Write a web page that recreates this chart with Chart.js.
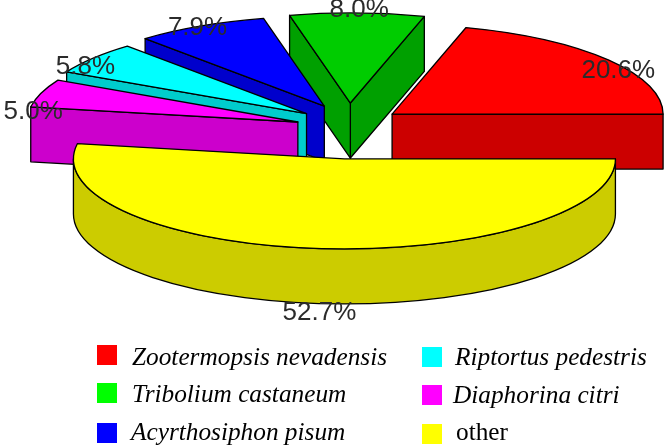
<!DOCTYPE html>
<html>
<head>
<meta charset="utf-8">
<style>
  html, body { margin: 0; padding: 0; background: #fff; }
  canvas { display: block; }
</style>
<script src="https://cdn.jsdelivr.net/npm/chart.js@4"></script>
</head>
<body>
<canvas id="pie-chart" width="666" height="446"></canvas>
<script>
// values, in the order the slices go round the pie (anti-clockwise from 3 o'clock)
const categories = ["Zootermopsis nevadensis", "Tribolium castaneum", "Acyrthosiphon pisum",
                    "Riptortus pedestris", "Diaphorina citri", "other"];
const percents = [20.6, 8.0, 7.9, 5.8, 5.0, 52.7];

const topColors = ["#ff0000", "#00cc00", "#0000ff", "#00ffff", "#ff00ff", "#ffff00"];
const wallColors = ["#cc0000", "#00a000", "#0000cc", "#00cccc", "#cc00cc", "#cccc00"];
const legendColors = ["#ff0000", "#00ff00", "#0000ff", "#00ffff", "#ff00ff", "#ffff00"];

// how the flat pie is tilted and pulled apart
const view = { rx: 271, ry: 90, depth: 55, explodeX: 54, explodeY: 28 };
// nudge of each % label away from the point on the rim
const labelNudge = [[10, 11], [2, -3], [-3, 2], [-8, 9], [-8, 19], [-2, 9]];
// legend boxes: [x, y of box, text x, text baseline]
const legendRows = [
    [97, 345, 132, 365], [97, 383, 132, 402], [97, 423, 131, 440],
    [422, 347, 455, 365], [422, 385, 453, 403], [422, 424, 456, 440]
];

function outline(ctx, color) {
    ctx.fillStyle = color;
    ctx.fill();
    ctx.stroke();
}

function drawWall(ctx, ax, ay, angle, color) {
    const ex = ax + Math.cos(angle) * view.rx;
    const ey = ay - Math.sin(angle) * view.ry;
    ctx.beginPath();
    ctx.moveTo(ax, ay);
    ctx.lineTo(ex, ey);
    ctx.lineTo(ex, ey + view.depth);
    ctx.lineTo(ax, ay + view.depth);
    ctx.closePath();
    outline(ctx, color);
}

// the library's arcs give the angles, this plugin tilts them into the 3D look
const pie3d = {
    id: 'pie3d',
    beforeDatasetsDraw(chart) {
        const ctx = chart.ctx;
        const arcs = chart.getDatasetMeta(0).data;
        ctx.save();
        ctx.lineWidth = 1.3;
        ctx.strokeStyle = "#000";
        ctx.lineJoin = "round";

        arcs.forEach((arc, i) => {
            const a0 = arc.startAngle, a1 = arc.endAngle;
            const mid = (a0 + a1) / 2;
            const ax = arc.x + Math.cos(mid) * view.explodeX;
            const ay = arc.y - Math.sin(mid) * view.explodeY;

            if (Math.cos(a0) > 0.001) drawWall(ctx, ax, ay, a0, wallColors[i]);
            if (Math.cos(a1) < -0.001) drawWall(ctx, ax, ay, a1, wallColors[i]);

            // curved outside wall, only the part facing us
            if (a1 > Math.PI) {
                const from = Math.max(a0, Math.PI);
                ctx.beginPath();
                ctx.ellipse(ax, ay, view.rx, view.ry, 0, -from, -a1, true);
                ctx.ellipse(ax, ay + view.depth, view.rx, view.ry, 0, -a1, -from, false);
                ctx.closePath();
                outline(ctx, wallColors[i]);
            }

            ctx.beginPath();
            ctx.moveTo(ax, ay);
            ctx.ellipse(ax, ay, view.rx, view.ry, 0, -a0, -a1, true);
            ctx.closePath();
            outline(ctx, topColors[i]);
        });

        // % labels
        ctx.fillStyle = "#2b2b2b";
        ctx.font = "26px 'Liberation Sans'";
        ctx.textAlign = "center";
        ctx.textBaseline = "middle";
        arcs.forEach((arc, i) => {
            const mid = (arc.startAngle + arc.endAngle) / 2;
            const ax = arc.x + Math.cos(mid) * view.explodeX;
            const ay = arc.y - Math.sin(mid) * view.explodeY;
            let y = ay - Math.sin(mid) * view.ry;
            if (Math.sin(mid) < 0) y += view.depth;
            ctx.fillText(percents[i].toFixed(1) + "%",
                ax + Math.cos(mid) * view.rx + labelNudge[i][0], y + labelNudge[i][1]);
        });

        // legend, mixed italic so drawn by hand
        ctx.textAlign = "left";
        ctx.textBaseline = "alphabetic";
        categories.forEach((name, i) => {
            const row = legendRows[i];
            ctx.fillStyle = legendColors[i];
            ctx.fillRect(row[0], row[1], 20, 20);
            ctx.fillStyle = "#000";
            ctx.font = (name === "other" ? "" : "italic ") + "25.3px 'Liberation Serif'";
            ctx.fillText(name, row[2], row[3]);
        });
        ctx.restore();
        return false;
    }
};

new Chart(document.getElementById("pie-chart"), {
    type: 'pie',
    data: {
        labels: categories,
        datasets: [
            {
                backgroundColor: topColors,
                data: percents
            }
        ]
    },
    options: {
        responsive: false,
        animation: false,
        rotation: 90,
        layout: { padding: { left: 32, bottom: 184 } },
        plugins: {
            legend: { display: false },
            tooltip: { enabled: false }
        }
    },
    plugins: [pie3d]
});
</script>
</body>
</html>
